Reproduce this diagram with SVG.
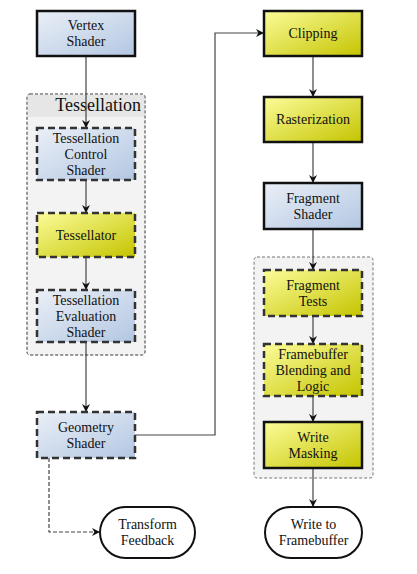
<svg xmlns="http://www.w3.org/2000/svg" width="417" height="574" viewBox="0 0 417 574">
<defs>
<linearGradient id="blue" x1="0" y1="0" x2="1" y2="1">
<stop offset="0" stop-color="#eaeff7"/>
<stop offset="1" stop-color="#b3c7e2"/>
</linearGradient>
<linearGradient id="yellow" x1="0" y1="0" x2="1" y2="1">
<stop offset="0" stop-color="#fcfc9a"/>
<stop offset="1" stop-color="#c4c400"/>
</linearGradient>
<marker id="arr" viewBox="0 0 10 10" refX="10" refY="5" markerWidth="8" markerHeight="8" markerUnits="userSpaceOnUse" orient="auto">
<path d="M0,0 L10,5 L0,10 L3,5 Z" fill="#111"/>
</marker>
</defs>
<style>
.grp{fill:#f3f3f3;stroke:#777;stroke-width:1;stroke-dasharray:3,2}
.solid{stroke:#111;stroke-width:2.5}
.dash{stroke:#333;stroke-width:2.5;stroke-dasharray:7,4}
.b{fill:url(#blue)}
.y{fill:url(#yellow)}
.pill{fill:#fff;stroke:#111;stroke-width:2}
.conn{fill:none;stroke:#444;stroke-width:1.2}
</style>
<rect fill="#fff" width="417" height="574"/>
<g font-family="'Liberation Serif', 'Times New Roman', serif" font-size="14" fill="#111" text-anchor="middle">
<g id="tessellation-group">
<rect class="grp" x="27" y="94" width="118" height="261" rx="3"/>
<path d="M27.5,117 V97 Q27.5,94.5 30,94.5 H142 Q144.5,94.5 144.5,97 V117 Z" fill="#e6e6e6"/>
<rect x="27" y="94" width="118" height="261" rx="3" fill="none" stroke="#777" stroke-dasharray="3,2"/>
<text x="141" y="111" font-size="18" text-anchor="end">Tessellation</text>
</g>
<g id="fragment-group">
<rect class="grp" x="254" y="257" width="119" height="221" rx="3"/>
</g>
<g id="connectors">
<path class="conn" d="M86,56 V128" marker-end="url(#arr)"/>
<path class="conn" d="M86,180 V213" marker-end="url(#arr)"/>
<path class="conn" d="M86,257 V290" marker-end="url(#arr)"/>
<path class="conn" d="M86,342 V412" marker-end="url(#arr)"/>
<path class="conn" d="M135,435 H215 V33 H264" marker-end="url(#arr)"/>
<path class="conn" d="M49,458 V532 H100" stroke-dasharray="4,2" stroke="#666" marker-end="url(#arr)"/>
<path class="conn" d="M313,56 V97" marker-end="url(#arr)"/>
<path class="conn" d="M313,142 V183" marker-end="url(#arr)"/>
<path class="conn" d="M313,229 V270" marker-end="url(#arr)"/>
<path class="conn" d="M313,316 V344" marker-end="url(#arr)"/>
<path class="conn" d="M313,396 V422" marker-end="url(#arr)"/>
<path class="conn" d="M313,468 V507" marker-end="url(#arr)"/>
</g>
<g id="vertex-shader">
<rect class="b solid" x="37" y="11" width="98" height="45"/>
<text x="86" y="30">Vertex</text><text x="86" y="46">Shader</text>
</g>
<g id="tess-control-shader">
<rect class="b dash" x="37" y="128" width="98" height="52"/>
<text x="86" y="143">Tessellation</text><text x="86" y="159">Control</text><text x="86" y="175">Shader</text>
</g>
<g id="tessellator">
<rect class="y dash" x="37" y="213" width="98" height="44"/>
<text x="86" y="240">Tessellator</text>
</g>
<g id="tess-eval-shader">
<rect class="b dash" x="37" y="290" width="98" height="52"/>
<text x="86" y="305">Tessellation</text><text x="86" y="321">Evaluation</text><text x="86" y="337">Shader</text>
</g>
<g id="geometry-shader">
<rect class="b dash" x="37" y="412" width="98" height="46"/>
<text x="86" y="432">Geometry</text><text x="86" y="448">Shader</text>
</g>
<g id="transform-feedback">
<rect class="pill" x="100" y="507" width="95" height="51" rx="25.5"/>
<text x="147.5" y="529">Transform</text><text x="147.5" y="545">Feedback</text>
</g>
<g id="clipping">
<rect class="y solid" x="264" y="11" width="98" height="45"/>
<text x="313" y="38">Clipping</text>
</g>
<g id="rasterization">
<rect class="y solid" x="264" y="97" width="98" height="45"/>
<text x="313" y="124">Rasterization</text>
</g>
<g id="fragment-shader">
<rect class="b solid" x="264" y="183" width="98" height="46"/>
<text x="313" y="203">Fragment</text><text x="313" y="219">Shader</text>
</g>
<g id="fragment-tests">
<rect class="y dash" x="264" y="270" width="98" height="46"/>
<text x="313" y="290">Fragment</text><text x="313" y="306">Tests</text>
</g>
<g id="framebuffer-blending">
<rect class="y dash" x="264" y="344" width="98" height="52"/>
<text x="313" y="359">Framebuffer</text><text x="313" y="375">Blending and</text><text x="313" y="391">Logic</text>
</g>
<g id="write-masking">
<rect class="y solid" x="264" y="422" width="98" height="46"/>
<text x="313" y="442">Write</text><text x="313" y="458">Masking</text>
</g>
<g id="write-to-framebuffer">
<rect class="pill" x="265" y="507" width="97" height="51" rx="25.5"/>
<text x="313.5" y="529">Write to</text><text x="313.5" y="545">Framebuffer</text>
</g>
</g>
</svg>
